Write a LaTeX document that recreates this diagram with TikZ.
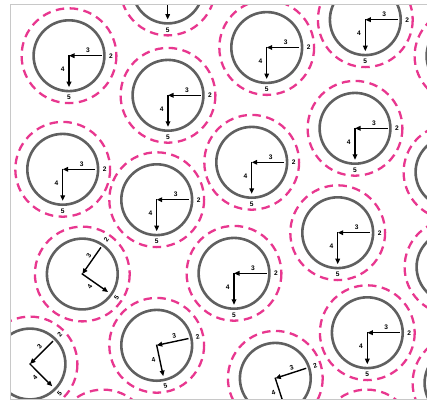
\documentclass[tikz,border=0pt]{standalone}
\usepackage{fontspec}
\setmainfont{Liberation Sans}
\usetikzlibrary{arrows.meta}

\definecolor{ringpink}{HTML}{E8378F}
\definecolor{dialgray}{HTML}{606060}
\definecolor{framegray}{HTML}{C8C8C8}

% centre x / centre y / turn of the hands (px of the figure, y downwards)
\newcommand{\clocklist}{69/55.7/0, 167.7/-12/0, 168/95.3/0, 266.7/47.5/0,
  365.3/19.7/0, 462/56/0, 355/128.3/0, 62.7/169.3/0, 251.7/162.3/0,
  156.7/199.7/0, 337.7/232.7/0, 82.3/274/55, 234/273.3/0, 367.3/332.7/0,
  156.7/345.3/12, 30/364/45, 275.3/378.3/18, 451/172/0, 452/267/0,
  460/383/0, 103/437/0, 366.7/437/0}

\begin{document}
\begin{tikzpicture}[x=1pt, y=-1pt,
  ring/.style={draw=ringpink, line width=2.3pt, dash pattern=on 8.5pt off 5.5pt},
  dial/.style={draw=dialgray, line width=2.6pt},
  hand/.style={-{Triangle[length=5.5pt,width=4.6pt]}, line width=1.4pt, black},
  numlabel/.style={font=\fontsize{6.6}{8}\selectfont\bfseries, inner sep=0pt}
]
\useasboundingbox (0,0) rectangle (427,402);

\begin{scope}
  \clip (10.7,4.5) rectangle (440,399.5);

  % dashed rings first
  \foreach \cx/\cy/\r [count=\i] in \clocklist {
    \draw[ring] (\cx,\cy) circle[radius=47.4];
  }

  % the clocks
  \foreach \cx/\cy/\r [count=\i] in \clocklist {
    \begin{scope}[shift={(\cx,\cy)}, rotate=\r]
      \coordinate (o\i) at (0,0);
      \coordinate (top\i) at (0,-0.7);
      \coordinate (e\i) at (32.5,0);
      \coordinate (s\i) at (0,31.5);
      \draw[dial] (o\i) circle[radius=35.4];
      \draw[hand] (e\i) -- (o\i);
      \draw[hand] (top\i) -- (s\i);
      \node[numlabel, rotate=\r] (three\i) at (19,-5.3) {3};
      \node[numlabel, rotate=\r] (two\i) at (42,0) {2};
      \node[numlabel, rotate=\r] (four\i) at (-6.3,13.5) {4};
      \node[numlabel, rotate=\r] (five\i) at (0,42) {5};
    \end{scope}
  }
\end{scope}

\draw[framegray, line width=0.9pt] (440,4.5) -- (10.7,4.5) -- (10.7,399.5) -- (440,399.5);
\end{tikzpicture}
\end{document}
